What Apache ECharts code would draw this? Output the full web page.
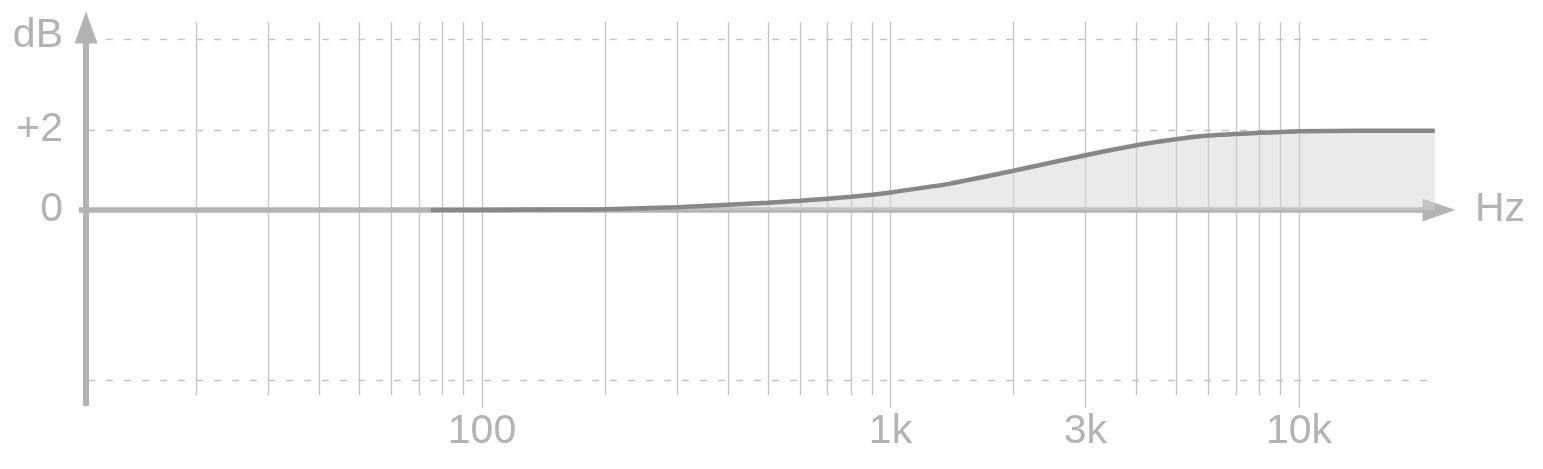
<!DOCTYPE html>
<html><head><meta charset="utf-8">
<style>html,body{margin:0;padding:0;background:#fff;}#chart{width:1543px;height:469px;}</style>
<script src="https://cdn.jsdelivr.net/npm/echarts@6/dist/echarts.min.js"></script>
</head><body><div id="chart"></div>
<script>
// ---- data ----
const curveFreqs = [75, 100, 150, 200, 300, 400, 500, 600, 700, 800, 900, 1000, 1400, 2000, 3000, 4000, 5000, 6000, 7000, 8000, 9000, 10000, 14000, 21500];
const curveGains = [0, 0, 0.01, 0.02, 0.07, 0.13, 0.18, 0.23, 0.28, 0.33, 0.38, 0.44, 0.66, 0.98, 1.37, 1.62, 1.77, 1.86, 1.9, 1.93, 1.95, 1.97, 1.98, 1.98];
const gridFreqs = [20, 30, 40, 50, 60, 70, 80, 90, 100, 200, 300, 400, 500, 600, 700, 800, 900, 1000, 2000, 3000, 4000, 5000, 6000, 7000, 8000, 9000, 10000];
const tickFreqs = [100, 1000, 3000, 10000];
const tickLabels = ['100', '1k', '3k', '10k'];
const dashedLevels = [4.28, 2, -4.25];
const yTickValues = [2, 0];
const yTickLabels = ['+2', '0'];
const yName = 'dB';
const xName = 'Hz';

// ---- styling / layout ----
const X_MIN = 10.315, X_MAX = 22016;
const Y_MIN = -4.9, Y_MAX = 4.5625;
const AXIS = '#b3b3b3';
const TEXT = '#b3b3b3';
const FONT = '"Helvetica Neue", Helvetica, "Liberation Sans", Arial, sans-serif';
const FS = 41;

function textEl(x, y, text, align) {
  return {
    type: 'text', x: x, y: y,
    style: {
      text: text, fill: TEXT, fontSize: FS, fontFamily: FONT,
      align: align, verticalAlign: 'middle',
      textAlign: align, textVerticalAlign: 'middle'
    }
  };
}

const chart = echarts.init(document.getElementById('chart'), null, {renderer: 'canvas'});
chart.setOption({
  animation: false,
  backgroundColor: '#ffffff',
  grid: {left: 79, right: 104, top: 27.5, bottom: 63, containLabel: false},
  xAxis: {
    type: 'log', logBase: 10, min: X_MIN, max: X_MAX, z: 2,
    name: xName, nameLocation: 'end', nameGap: 36,
    nameTextStyle: {color: TEXT, fontSize: FS, fontFamily: FONT, verticalAlign: 'middle'},
    axisLine: {show: true, onZero: true, symbol: ['none', 'triangle'], symbolSize: [23, 33],
      lineStyle: {color: AXIS, width: 5.5, cap: 'butt'}},
    axisTick: {show: false}, axisLabel: {show: false}, splitLine: {show: false}, minorSplitLine: {show: false}
  },
  yAxis: {
    type: 'value', min: Y_MIN, max: Y_MAX, offset: -7, z: 2,
    axisLine: {show: true, symbol: ['none', 'triangle'], symbolSize: [23, 32],
      lineStyle: {color: AXIS, width: 6, cap: 'butt'}},
    axisTick: {show: false}, axisLabel: {show: false}, splitLine: {show: false}
  },
  series: [
    { // vertical frequency grid lines
      type: 'custom', clip: false, silent: true, z: 1,
      data: gridFreqs.map(f => [f, tickFreqs.indexOf(f) >= 0 ? 1 : 0]),
      renderItem: function (params, api) {
        const f = api.value(0);
        const major = api.value(1) === 1;
        const p1 = api.coord([f, 4.7]);
        const p2 = api.coord([f, major ? -4.95 : -4.625]);
        return {type: 'line', shape: {x1: Math.round(p1[0]) + 0.5, y1: p1[1], x2: Math.round(p2[0]) + 0.5, y2: p2[1]},
          style: {stroke: '#c4c4c4', lineWidth: 1.3}};
      }
    },
    { // dashed level lines
      type: 'custom', clip: false, silent: true, z: 1,
      data: dashedLevels.map(v => [1000, v]),
      renderItem: function (params, api) {
        const v = api.value(1);
        const a = api.coord([X_MIN, v]);
        const b = api.coord([curveFreqs[curveFreqs.length - 1], v]);
        return {type: 'line', shape: {x1: a[0] + 9, y1: Math.round(a[1]) + 0.5, x2: b[0] - 2, y2: Math.round(b[1]) + 0.5},
          style: {stroke: '#c2c2c2', lineWidth: 1.3, lineDash: [7, 11]}};
      }
    },
    { // response curve
      type: 'line', z: 3, symbol: 'none', smooth: 0.2,
      data: curveFreqs.map((f, i) => [f, curveGains[i]]),
      lineStyle: {color: '#878787', width: 4.5, cap: 'butt'},
      areaStyle: {color: 'rgba(212,212,212,0.7)', origin: 0}
    },
    { // x tick labels
      type: 'custom', clip: false, silent: true, z: 4,
      data: tickFreqs.map((f, i) => [f, i]),
      renderItem: function (params, api) {
        const p = api.coord([api.value(0), -5.55]);
        return textEl(p[0], p[1], tickLabels[api.value(1)], 'center');
      }
    },
    { // y tick labels + axis name
      type: 'custom', clip: false, silent: true, z: 4,
      data: yTickValues.map((v, i) => [X_MIN, v, i]).concat([[X_MIN, 4.35, -1]]),
      renderItem: function (params, api) {
        const idx = api.value(2);
        const p = api.coord([X_MIN, api.value(1)]);
        const txt = idx < 0 ? yName : yTickLabels[idx];
        return textEl(p[0] - 16, p[1], txt, 'right');
      }
    }
  ]
});
</script>
</body></html>
